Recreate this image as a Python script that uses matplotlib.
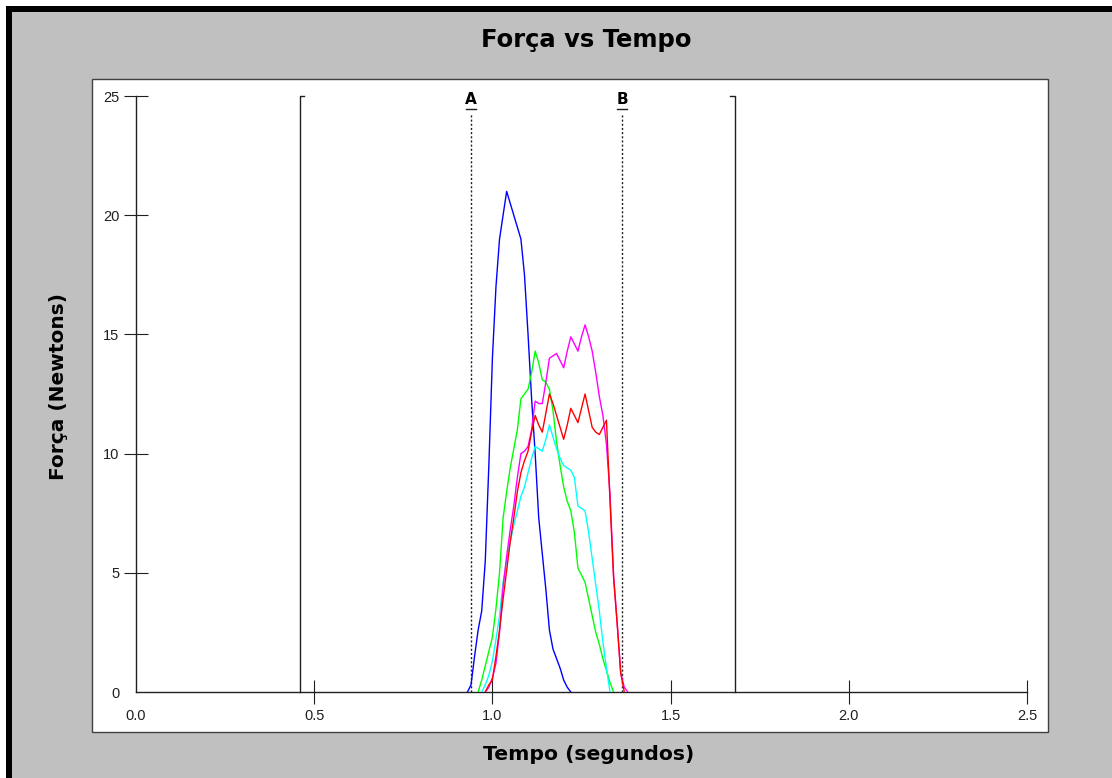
import numpy as np
import matplotlib
matplotlib.use("Agg")
import matplotlib.pyplot as plt
from matplotlib.patches import Rectangle

plt.rcParams["lines.scale_dashes"] = False

# Sample times (s) shared by every force trace
tempo = [0.93, 0.94, 0.95, 0.96, 0.97, 0.98, 0.99, 1.00, 1.01, 1.02,
         1.03, 1.04, 1.05, 1.06, 1.07, 1.08, 1.09, 1.10, 1.11, 1.12,
         1.13, 1.14, 1.15, 1.16, 1.17, 1.18, 1.19, 1.20, 1.21, 1.22,
         1.23, 1.24, 1.25, 1.26, 1.27, 1.28, 1.29, 1.30, 1.31, 1.32,
         1.33, 1.34, 1.35, 1.36, 1.37, 1.38]

N = None
# Force (N) per trial; None where the trial has no sample
forca_azul = [0.0, 0.3, 1.5, 2.6, 3.4, 5.5, 9.5, 14.0, 17.0, 19.0,
              20.0, 21.0, 20.5, 20.0, 19.5, 19.0, 17.5, 15.0, 12.3, 10.0,
              7.3, 5.8, 4.3, 2.6, 1.8, 1.4, 1.0, 0.5, 0.2, 0.0,
              N, N, N, N, N, N, N, N, N, N,
              N, N, N, N, N, N]
forca_verde = [N, N, N, 0.0, 0.5, 1.1, 1.7, 2.3, 3.5, 5.0,
               7.3, 8.4, 9.4, 10.2, 11.0, 12.3, 12.5, 12.7, 13.4, 14.3,
               13.8, 13.1, 13.0, 12.7, 11.8, 10.5, 9.5, 8.6, 8.0, 7.6,
               6.7, 5.2, 4.9, 4.6, 3.9, 3.2, 2.5, 2.0, 1.4, 0.9,
               0.4, 0.0, N, N, N, N]
forca_ciano = [N, N, N, N, 0.0, 0.3, 0.7, 1.3, 2.2, 3.2,
               4.6, 5.5, 6.3, 7.0, 7.6, 8.2, 8.6, 9.2, 9.8, 10.3,
               10.2, 10.1, 10.6, 11.2, 10.7, 10.2, 9.8, 9.5, 9.4, 9.3,
               9.0, 7.8, 7.7, 7.6, 6.7, 5.6, 4.5, 3.4, 2.1, 1.0,
               0.0, N, N, N, N, N]
forca_magenta = [N, N, N, N, N, 0.0, 0.2, 0.6, 1.2, 2.5,
                 4.4, 5.7, 6.8, 7.8, 9.0, 10.0, 10.1, 10.3, 11.0, 12.2,
                 12.1, 12.1, 13.0, 14.0, 14.1, 14.2, 13.9, 13.6, 14.3, 14.9,
                 14.6, 14.3, 14.9, 15.4, 14.9, 14.3, 13.4, 12.4, 11.6, 10.4,
                 8.3, 4.9, 2.9, 0.8, 0.2, 0.0]
forca_vermelho = [N, N, N, N, N, 0.0, 0.3, 0.5, 1.5, 2.6,
                  3.9, 5.1, 6.3, 7.3, 8.4, 9.2, 9.7, 10.1, 10.9, 11.6,
                  11.2, 10.9, 11.7, 12.5, 12.1, 11.6, 11.1, 10.6, 11.2, 11.9,
                  11.6, 11.3, 11.9, 12.5, 11.8, 11.1, 10.9, 10.8, 11.1, 11.4,
                  8.0, 4.8, 2.9, 0.8, 0.0, N]

series = [
    (forca_azul, "#0000FF"),
    (forca_verde, "#00FF00"),
    (forca_ciano, "#00FFFF"),
    (forca_magenta, "#FF00FF"),
    (forca_vermelho, "#FF0000"),
]

# Analysis window (solid brackets) and cursors A / B (dashed)
janela = [0.46, 1.68]
cursores = [0.94, 1.364]
cursor_nomes = ["A", "B"]

x_ticks = [0.0, 0.5, 1.0, 1.5, 2.0, 2.5]
x_tick_labels = ["0.0", "0.5", "1.0", "1.5", "2.0", "2.5"]
y_ticks = [0, 5, 10, 15, 20, 25]
y_tick_labels = ["0", "5", "10", "15", "20", "25"]

W, H = 1112, 778
fig = plt.figure(figsize=(W / 100, H / 100), dpi=100)
fig.patch.set_facecolor("#C0C0C0")


def px_rect(x0, y0, x1, y1, **kw):
    """Rectangle given in pixel coordinates measured from the top-left."""
    r = Rectangle((x0 / W, 1 - y1 / H), (x1 - x0) / W, (y1 - y0) / H,
                  transform=fig.transFigure, zorder=-5, **kw)
    fig.add_artist(r)


# window frame: white outer margin and thick black edge
px_rect(0, 0, W, 6, facecolor="white", edgecolor="none")
px_rect(0, 0, 6, H, facecolor="white", edgecolor="none")
px_rect(6, 6, W, 12, facecolor="black", edgecolor="none")
px_rect(6, 6, 12, H, facecolor="black", edgecolor="none")
# white plotting panel
px_rect(92, 79, 1048, 732, facecolor="white", edgecolor="#404040", linewidth=1.0)

ax = fig.add_axes([136 / W, 1 - 692 / H, 891 / W, 596 / H])
ax.set_facecolor("none")
ax.set_xlim(0, 2.5)
ax.set_ylim(0, 25)
for s in ("top", "right"):
    ax.spines[s].set_visible(False)
for s in ("left", "bottom"):
    ax.spines[s].set_color("#202020")
    ax.spines[s].set_linewidth(1.0)

ax.set_xticks(x_ticks)
ax.set_xticklabels(x_tick_labels)
ax.set_yticks(y_ticks)
ax.set_yticklabels(y_tick_labels)
ax.tick_params(direction="inout", length=17.5, width=0.8, color="#202020",
               labelsize=10.5, labelcolor="#202020", pad=3.2)
for lab in ax.get_xticklabels() + ax.get_yticklabels():
    lab.set_fontfamily("Liberation Sans")
ax.xaxis.get_major_ticks()[0].tick1line.set_visible(False)
ax.yaxis.get_major_ticks()[0].tick1line.set_visible(False)

# window brackets
hook = 0.012
ax.plot([janela[0], janela[0], janela[0] + hook], [0, 25, 25],
        color="#202020", lw=1.0, clip_on=False, zorder=3)
ax.plot([janela[1], janela[1], janela[1] - hook], [0, 25, 25],
        color="#202020", lw=1.0, clip_on=False, zorder=3)

# cursors
for xc, nome in zip(cursores, cursor_nomes):
    ax.plot([xc, xc], [0, 24.3], color="#202020", lw=1.0,
            linestyle=(0, (1.5, 1.5)), zorder=3)
    ax.plot([xc - 0.015, xc + 0.015], [24.45, 24.45], color="#202020",
            lw=1.0, zorder=3, clip_on=False)
    ax.text(xc, 24.55, nome, ha="center", va="bottom", fontsize=11,
            fontweight="bold", family="DejaVu Sans", color="black")

t = np.array(tempo, dtype=float)
for valores, cor in series:
    y = np.array([np.nan if v is None else v for v in valores], dtype=float)
    ax.plot(t, y, color=cor, lw=1.0, zorder=4)

fig.text(586 / W, 1 - 40 / H, "Força vs Tempo", ha="center", va="center",
         fontsize=17.5, fontweight="bold", family="DejaVu Sans", color="black")
fig.text(589 / W, 1 - 755 / H, "Tempo (segundos)", ha="center", va="center",
         fontsize=14.7, fontweight="bold", family="DejaVu Sans", color="black")
fig.text(58 / W, 1 - 386 / H, "Força (Newtons)", ha="center", va="center",
         rotation=90, fontsize=14.5, fontweight="bold", family="DejaVu Sans",
         color="black")

fig.savefig("out.png", dpi=100, facecolor=fig.get_facecolor())
